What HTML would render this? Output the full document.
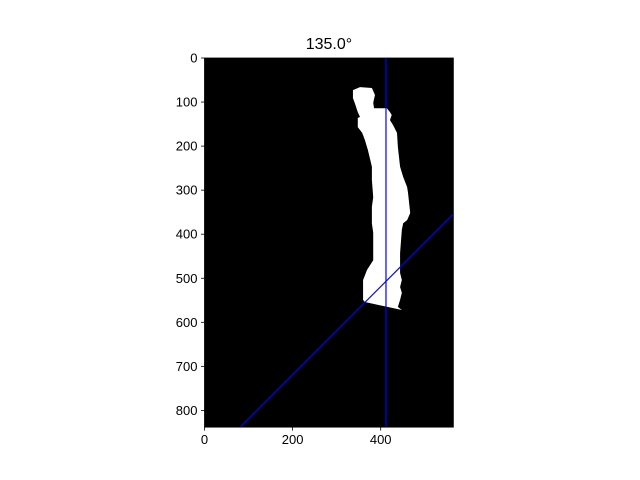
<!DOCTYPE html>
<html><head><meta charset="utf-8"><style>
html,body{margin:0;padding:0;background:#fff;overflow:hidden;width:640px;height:480px}
svg{display:block;overflow:hidden}
svg text{font-family:"Liberation Sans","DejaVu Sans",sans-serif;fill:#000}
</style></head><body>
<svg id="c" width="640" height="480" xmlns="http://www.w3.org/2000/svg"></svg>
<script>
const imgW = 565, imgH = 838;
const xTicks = [0, 200, 400];
const yTicks = [0, 100, 200, 300, 400, 500, 600, 700, 800];
const titleText = "135.0\u00b0";
const maskX = [337,353,380,387,383,385,414,421,425,421,428,437,439,444,451,460,462,467,460,451,448,444,444,448,444,448,444,439,448,364,360,360,369,383,383,380,380,383,380,380,371,364,358,348,348,353,348,341,337];
const maskY = [73,66,68,84,102,114,114,123,129,141,152,170,202,247,270,293,306,352,368,375,390,443,488,504,520,533,549,565,572,554,549,504,481,459,397,375,338,316,277,247,209,186,170,157,136,134,123,102,91];
const axisLineX = 412;
const diagPoint = [412, 507];
const diagAngle = 135;

const L = 204.5, T = 58, S = 0.4405;
const sx = v => L + v * S, sy = v => T + v * S;
const svg = document.getElementById('c');
const NS = 'http://www.w3.org/2000/svg';
function mk(tag, attrs, parent){const e=document.createElementNS(NS,tag);for(const k in attrs)e.setAttribute(k,attrs[k]);(parent||svg).appendChild(e);return e;}

const bg = mk('rect',{x:sx(0),y:sy(0),width:imgW*S,height:imgH*S,fill:'#000'});



const pts = maskX.map((x,i)=>sx(x)+','+sy(maskY[i])).join(' ');
const mask = mk('polygon',{points:pts,fill:'#fff'});



const vl = mk('line',{x1:sx(axisLineX),y1:sy(0),x2:sx(axisLineX),y2:sy(imgH),stroke:'#0000ff','stroke-width':1.2});



// clip diagonal line to image rectangle
const a = diagAngle*Math.PI/180, dx = Math.cos(a), dy = Math.sin(a);
let tmin = -1e9, tmax = 1e9;
[[dx, diagPoint[0], imgW],[dy, diagPoint[1], imgH]].forEach(([d,p,m])=>{
  if (Math.abs(d) > 1e-9) {
    const t1 = (0 - p)/d, t2 = (m - p)/d;
    tmin = Math.max(tmin, Math.min(t1,t2));
    tmax = Math.min(tmax, Math.max(t1,t2));
  }
});
const dl = mk('line',{x1:sx(diagPoint[0]+dx*tmin),y1:sy(diagPoint[1]+dy*tmin),x2:sx(diagPoint[0]+dx*tmax),y2:sy(diagPoint[1]+dy*tmax),stroke:'#0000ff','stroke-width':1.2});



xTicks.forEach(v=>{
  mk('line',{x1:sx(v),y1:sy(imgH),x2:sx(v),y2:sy(imgH)+3.5,stroke:'#000','stroke-width':0.8});
  const tx = mk('text',{x:sx(v),y:sy(imgH)+17,'font-size':13,'text-anchor':'middle'});
  tx.textContent = v;
  
  
});
yTicks.forEach(v=>{
  mk('line',{x1:sx(0)-3.5,y1:sy(v),x2:sx(0),y2:sy(v),stroke:'#000','stroke-width':0.8});
  const tx = mk('text',{x:sx(0)-7,y:sy(v)+4.5,'font-size':13,'text-anchor':'end'});
  tx.textContent = v;
  
  
});
const fr = mk('rect',{x:sx(0),y:sy(0),width:imgW*S,height:imgH*S,fill:'none',stroke:'#000','stroke-width':0.8});


const ti = mk('text',{x:sx(imgW/2),y:49,'font-size':16,'text-anchor':'middle'});
ti.textContent = titleText;


</script>
</body></html>
